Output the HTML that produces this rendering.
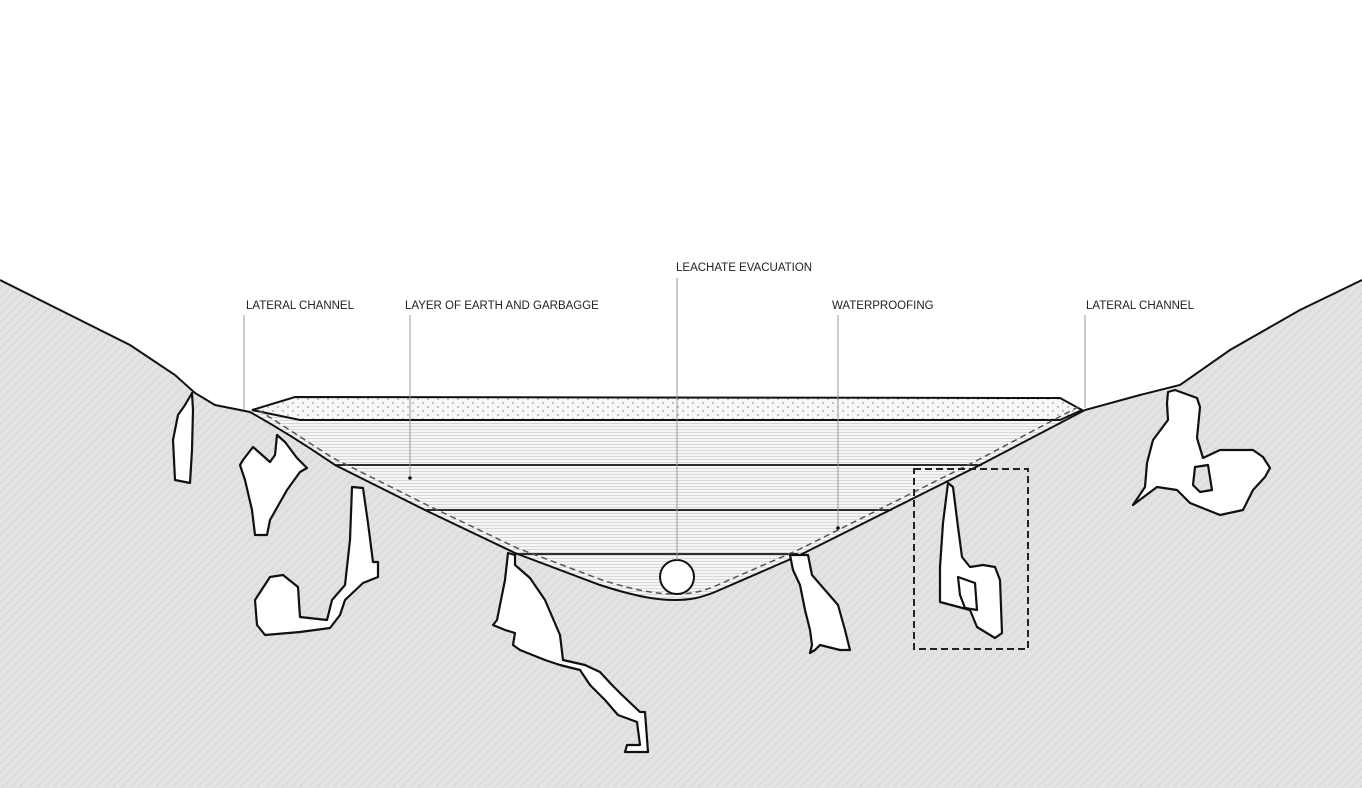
<!DOCTYPE html>
<html><head><meta charset="utf-8"><style>
html,body{margin:0;padding:0;background:#fff;}
svg{display:block;}
text{font-family:"Liberation Sans",sans-serif;font-size:11.5px;fill:#222;}
</style></head><body>
<svg width="1362" height="788" viewBox="0 0 1362 788" xmlns="http://www.w3.org/2000/svg">
<defs>
<pattern id="hatch" width="6" height="6" patternUnits="userSpaceOnUse" patternTransform="rotate(45)">
<rect width="6" height="6" fill="#e3e3e3"/><line x1="0" y1="0" x2="0" y2="6" stroke="#d2d2d2" stroke-width="1.5"/>
</pattern>
<pattern id="hlines" width="4" height="3" patternUnits="userSpaceOnUse">
<rect width="4" height="3" fill="#f6f6f6"/><line x1="0" y1="0.5" x2="4" y2="0.5" stroke="#d8d8d8" stroke-width="1"/>
</pattern>
<pattern id="dots" width="10" height="8" patternUnits="userSpaceOnUse">
<rect width="10" height="8" fill="#f7f7f7"/><circle cx="3" cy="3" r="0.9" fill="#999"/><circle cx="8" cy="7" r="0.9" fill="#999"/>
</pattern>
</defs>
<!-- ground -->
<path d="M0,280 L60,310 L130,345 L175,375 L195,393 L215,405 L250,412 C300,440 330,462 335,465 L425,510 L515,553 L600,585 C640,598 660,600 675,600 C690,600 700,598 715,592 L800,555 L890,510 L980,465 L1085,410 L1140,395 L1180,385 L1230,350 L1300,310 L1362,280 L1362,788 L0,788 Z" fill="url(#hatch)"/>
<!-- basin fill -->
<path d="M250,412 L335,465 L425,510 L515,553 L600,585 C640,598 660,600 675,600 C690,600 700,598 715,592 L800,555 L890,510 L980,465 L1085,410 L1060,398 L295,397 Z" fill="url(#hlines)"/>
<path d="M252,410 L295,397 L1060,398 L1082,410 L1060,420 L300,420 Z" fill="url(#dots)" stroke="#111" stroke-width="2"/>
<g stroke="#111" stroke-width="1.8">
<line x1="335" y1="465" x2="982" y2="465"/>
<line x1="425" y1="510" x2="892" y2="510"/>
<line x1="515" y1="554" x2="798" y2="554"/>
</g>
<!-- ground line -->
<path d="M0,280 L60,310 L130,345 L175,375 L195,393 L215,405 L250,412 C300,440 330,462 335,465 L425,510 L515,553 L600,585 C640,598 660,600 675,600 C690,600 700,598 715,592 L800,555 L890,510 L980,465 L1085,410 L1140,395 L1180,385 L1230,350 L1300,310 L1362,280" fill="none" stroke="#111" stroke-width="2"/>
<path d="M258,410 C300,436 330,457 337,460 L427,505 L517,548 L602,580 C640,592 660,594 675,594 C690,594 700,592 713,587 L798,550 L888,505 L978,460 L1080,406" fill="none" stroke="#555" stroke-width="1.5" stroke-dasharray="6,4"/>
<circle cx="677" cy="577" r="17" fill="#fff" stroke="#111" stroke-width="2"/>
<!-- caves -->
<g fill="#fff" stroke="#111" stroke-width="2.2" stroke-linejoin="round">
<path d="M192,393 L185,405 L178,415 L173,440 L175,480 L190,483 L192,450 L193,410 Z"/>
<path d="M253,447 L270,462 L275,455 L277,435 L285,442 L297,458 L307,468 L300,472 L287,490 L270,520 L267,535 L255,535 L252,510 L245,480 L240,465 L243,460 Z"/>
<path d="M352,487 L363,488 L368,523 L373,562 L378,562 L378,577 L363,583 L345,600 L340,615 L330,628 L300,632 L265,635 L257,625 L255,600 L270,577 L283,575 L298,587 L300,617 L327,620 L332,600 L345,585 L350,540 Z"/>
<path d="M508,553 L515,555 L515,565 L530,578 L545,600 L560,635 L563,660 L585,665 L600,672 L612,685 L622,695 L640,712 L645,712 L648,752 L625,752 L627,745 L640,745 L637,722 L618,715 L605,700 L590,685 L580,670 L560,665 L545,660 L520,650 L513,645 L515,633 L505,630 L493,625 L497,620 L505,580 Z"/>
<path d="M790,555 L808,555 L812,575 L825,590 L838,605 L845,630 L850,650 L840,650 L820,645 L815,650 L810,653 L812,645 L810,630 L805,610 L800,585 L793,570 Z"/>
<path d="M948,483 L953,487 L958,527 L962,557 L970,567 L983,565 L995,567 L1000,580 L1002,633 L995,638 L977,627 L970,610 L940,602 L940,567 L943,523 Z"/>
<path d="M958,577 L975,583 L977,610 L965,608 L960,595 Z"/>
<path d="M1168,392 L1167,403 L1168,420 L1153,440 L1147,463 L1145,487 L1133,505 L1157,487 L1177,490 L1190,503 L1220,515 L1243,510 L1253,490 L1265,477 L1270,468 L1263,457 L1253,450 L1220,450 L1203,458 L1197,438 L1200,407 L1197,398 L1175,390 Z"/>
<path d="M1195,467 L1208,465 L1212,490 L1200,492 L1193,485 Z" fill="url(#hatch)"/>
</g>
<rect x="914" y="469" width="114" height="180" fill="none" stroke="#222" stroke-width="2" stroke-dasharray="7,4"/>
<!-- leaders -->
<g stroke="#999" stroke-width="1">
<line x1="244" y1="315" x2="244" y2="410"/>
<line x1="410" y1="315" x2="410" y2="478"/>
<line x1="677" y1="278" x2="677" y2="560"/>
<line x1="838" y1="315" x2="838" y2="528"/>
<line x1="1085" y1="315" x2="1085" y2="408"/>
</g>
<circle cx="410" cy="478" r="1.8" fill="#111"/>
<circle cx="838" cy="528" r="1.8" fill="#111"/>
<text x="246" y="309">LATERAL CHANNEL</text>
<text x="405" y="309">LAYER OF EARTH AND GARBAGGE</text>
<text x="676" y="271">LEACHATE EVACUATION</text>
<text x="832" y="309">WATERPROOFING</text>
<text x="1086" y="309">LATERAL CHANNEL</text>
</svg>
</body></html>
